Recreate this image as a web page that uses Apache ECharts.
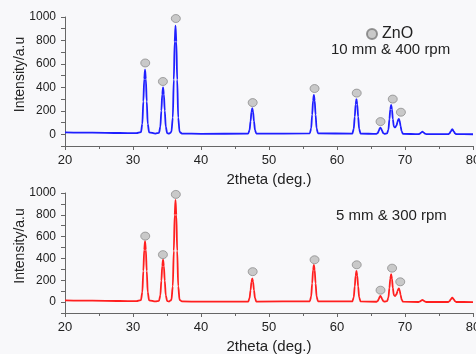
<!DOCTYPE html>
<html>
<head>
<meta charset="utf-8">
<script src="https://cdn.jsdelivr.net/npm/echarts@6/dist/echarts.min.js"></script>
<style>
  html, body { margin: 0; padding: 0; background: #f8f8fa; }
  #xrd { width: 476px; height: 354px; }
</style>
</head>
<body>
<div id="xrd"></div>
<script>
// 10 mm & 400 rpm pattern (blue), [2theta, intensity]
const topPattern = [
  [20, 17], [24, 14], [28, 11], [30.5, 9],
  [31.17, 18], [31.37, 88], [31.52, 280], [31.65, 470], [31.77, 550], [31.89, 470], [32.02, 280], [32.17, 88], [32.37, 16],
  [33.3, 6], [33.82, 12], [34.02, 64], [34.17, 202], [34.3, 340], [34.42, 400], [34.54, 340], [34.67, 202], [34.82, 64], [35.02, 10],
  [35.3, 5], [35.65, 20], [35.85, 142], [36.0, 465], [36.13, 790], [36.25, 927], [36.37, 790], [36.5, 465], [36.65, 142], [36.85, 20], [37.2, 6],
  [40, 4], [46.94, 5], [47.14, 36], [47.29, 112], [47.42, 190], [47.54, 223], [47.66, 190], [47.79, 112], [47.94, 36], [48.14, 5],
  [56.0, 7], [56.2, 50], [56.35, 168], [56.48, 286], [56.6, 336], [56.72, 286], [56.85, 168], [57.0, 50], [57.2, 7],
  [62.26, 6], [62.46, 45], [62.61, 150], [62.74, 255], [62.86, 300], [62.98, 255], [63.11, 150], [63.26, 45], [63.46, 6],
  [65.8, 3], [66.0, 11], [66.15, 30], [66.26, 48], [66.38, 57], [66.5, 48], [66.63, 30], [66.78, 11], [66.98, 4],
  [67.36, 8], [67.56, 40], [67.71, 128], [67.84, 215], [67.96, 251], [68.08, 215], [68.21, 130], [68.36, 66], [68.55, 58],
  [68.75, 75], [68.9, 105], [69.0, 125], [69.1, 131], [69.22, 113], [69.35, 70], [69.5, 25], [69.7, 4],
  [72.0, 1], [72.2, 6], [72.36, 14], [72.56, 22], [72.76, 14], [72.92, 6], [73.1, 1],
  [76.35, 1], [76.55, 8], [76.72, 25], [76.95, 43], [77.18, 25], [77.35, 8], [77.55, 1], [80, 0]
];

// 5 mm & 300 rpm pattern (red)
const bottomPattern = [
  [20, 16], [24, 13], [28, 10], [30.5, 9],
  [31.17, 18], [31.37, 90], [31.52, 285], [31.65, 478], [31.77, 559], [31.89, 478], [32.02, 285], [32.17, 90], [32.37, 16],
  [33.3, 6], [33.82, 12], [34.02, 62], [34.17, 196], [34.3, 330], [34.42, 388], [34.54, 330], [34.67, 196], [34.82, 62], [35.02, 10],
  [35.3, 5], [35.65, 20], [35.85, 145], [36.0, 470], [36.13, 800], [36.25, 937], [36.37, 800], [36.5, 470], [36.65, 145], [36.85, 20], [37.2, 6],
  [40, 4], [46.94, 5], [47.14, 35], [47.29, 110], [47.42, 186], [47.54, 218], [47.66, 186], [47.79, 110], [47.94, 35], [48.14, 5],
  [56.0, 7], [56.2, 52], [56.35, 172], [56.48, 292], [56.6, 342], [56.72, 292], [56.85, 172], [57.0, 52], [57.2, 7],
  [62.26, 6], [62.46, 43], [62.61, 143], [62.74, 243], [62.86, 286], [62.98, 243], [63.11, 143], [63.26, 43], [63.46, 6],
  [65.8, 3], [66.0, 11], [66.15, 29], [66.26, 47], [66.38, 56], [66.5, 47], [66.63, 29], [66.78, 11], [66.98, 4],
  [67.36, 8], [67.56, 41], [67.71, 130], [67.84, 218], [67.96, 255], [68.08, 218], [68.21, 130], [68.36, 64], [68.55, 56],
  [68.75, 72], [68.9, 100], [69.0, 119], [69.1, 125], [69.22, 108], [69.35, 67], [69.5, 24], [69.7, 4],
  [72.0, 1], [72.2, 6], [72.36, 13], [72.56, 20], [72.76, 13], [72.92, 6], [73.1, 1],
  [76.35, 1], [76.55, 8], [76.72, 24], [76.95, 41], [77.18, 24], [77.35, 8], [77.55, 1], [80, 0]
];

// ZnO markers above the peaks
const topMarks = [
  [31.8, 608], [34.4, 450], [36.3, 987], [47.6, 270], [56.7, 390],
  [62.9, 351], [66.4, 108], [68.2, 300], [69.4, 188]
];
const bottomMarks = [
  [31.8, 605], [34.4, 435], [36.3, 987], [47.6, 279], [56.7, 388],
  [62.9, 342], [66.4, 109], [68.1, 311], [69.3, 186]
];

const yRange = [-100, 1000];
const xRange = [20, 80];

const txt = '#222';
const axisCol = '#666';
const font = 'Liberation Sans';

const makeX = (gridIndex) => ({
  type: 'value', gridIndex, min: xRange[0], max: xRange[1], interval: 10,
  name: '2theta (deg.)', nameLocation: 'middle', nameGap: 26, nameMoveOverlap: false,
  nameTextStyle: { color: txt, fontSize: 15, fontFamily: font },
  axisLine: { onZero: false, lineStyle: { color: axisCol } },
  axisTick: { length: 4, lineStyle: { color: axisCol } },
  minorTick: { show: true, splitNumber: 2, length: 3, lineStyle: { color: axisCol } },
  axisLabel: { color: txt, fontSize: 13, margin: 8, fontFamily: font },
  splitLine: { show: false }
});

const makeY = (gridIndex) => ({
  type: 'value', gridIndex, min: yRange[0], max: yRange[1], interval: 100,
  name: 'Intensity/a.u', nameLocation: 'middle', nameGap: 38, nameMoveOverlap: false,
  nameTextStyle: { color: txt, fontSize: 14, fontFamily: font, padding: [0, 0, 0, 14] },
  axisLine: { show: true, lineStyle: { color: axisCol } },
  axisTick: { show: true, length: 4, lineStyle: { color: axisCol } },
  axisLabel: {
    color: txt, fontSize: 12, margin: 9, fontFamily: font,
    // 只显示 0,200,...,1000
    formatter: (v) => (v >= 0 && v % 200 === 0 ? String(v) : '')
  },
  splitLine: { show: false }
});

const markStyle = {
  color: '#bdbdbd', borderColor: '#7a7a7a', borderWidth: 0.8
};

const option = {
  backgroundColor: '#f8f8fa',
  animation: false,
  grid: [
    { left: 65, right: 3, top: 17, height: 129, outerBoundsMode: 'none' },
    { left: 65, right: 3, top: 193, height: 120, outerBoundsMode: 'none' }
  ],
  xAxis: [makeX(0), makeX(1)],
  yAxis: [makeY(0), makeY(1)],
  legend: {
    data: [{ name: 'ZnO', icon: 'circle' }],
    left: 361, top: 21, itemWidth: 10, itemHeight: 10,
    textStyle: { color: txt, fontSize: 16, fontFamily: font }
  },
  graphic: [
    { type: 'text', left: 331, top: 42, style: { text: '10 mm & 400 rpm', fill: txt, font: '15px "Liberation Sans"' } },
    { type: 'text', left: 336, top: 208, style: { text: '5 mm & 300 rpm', fill: txt, font: '15px "Liberation Sans"' } }
  ],
  series: [
    {
      name: '10 mm & 400 rpm', type: 'line', xAxisIndex: 0, yAxisIndex: 0,
      data: topPattern, showSymbol: false, smooth: 0.3, smoothMonotone: 'x',
      lineStyle: { color: '#1f1fff', width: 1.8 }
    },
    {
      name: '5 mm & 300 rpm', type: 'line', xAxisIndex: 1, yAxisIndex: 1,
      data: bottomPattern, showSymbol: false, smooth: 0.3, smoothMonotone: 'x',
      lineStyle: { color: '#ff1f1f', width: 1.8 }
    },
    {
      name: 'ZnO', type: 'scatter', xAxisIndex: 0, yAxisIndex: 0,
      data: topMarks, symbol: 'circle', symbolSize: [9, 8], itemStyle: markStyle, z: 5
    },
    {
      name: 'ZnO', type: 'scatter', xAxisIndex: 1, yAxisIndex: 1,
      data: bottomMarks, symbol: 'circle', symbolSize: [9, 8], itemStyle: markStyle, z: 5
    }
  ]
};

const chart = echarts.init(document.getElementById('xrd'));
chart.setOption(option);
</script>
</body>
</html>
